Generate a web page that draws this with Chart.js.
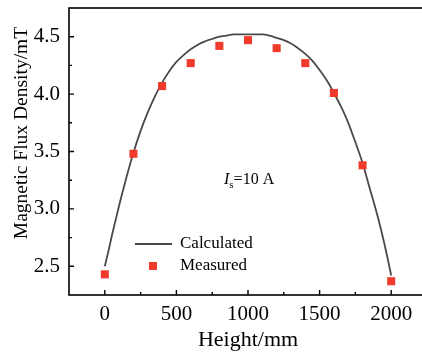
<!DOCTYPE html>
<html><head><meta charset="utf-8">
<script src="https://cdn.jsdelivr.net/npm/chart.js@4/dist/chart.umd.min.js"></script>
<style>
html,body{margin:0;padding:0;background:#fff;overflow:hidden;width:422px;height:356px}
#wrap{width:440px;height:356px}
</style></head>
<body><div id="wrap"><canvas id="c" width="440" height="356"></canvas></div>
<script>
// ---- data ----
const calcHeight = [0,25,50,75,100,150,200,250,300,350,400,450,500,550,600,650,700,750,800,850,900,950,1000,1050,1100,1150,1200,1250,1300,1350,1400,1450,1500,1550,1600,1650,1700,1750,1800,1850,1900,1925,1950,1975,2000];
const calcField  = [2.50,2.63,2.77,2.90,3.03,3.27,3.49,3.68,3.84,3.98,4.10,4.20,4.28,4.34,4.39,4.43,4.46,4.48,4.50,4.51,4.52,4.52,4.52,4.52,4.52,4.51,4.49,4.47,4.44,4.40,4.35,4.29,4.21,4.12,4.01,3.89,3.75,3.58,3.40,3.18,2.96,2.84,2.71,2.57,2.42];
const measHeight = [0,200,400,600,800,1000,1200,1400,1600,1800,2000];
const measField  = [2.43,3.48,4.07,4.27,4.42,4.47,4.40,4.27,4.01,3.38,2.37];
const xTicks = [0,500,1000,1500,2000];
const xMinor = [250,750,1250,1750];
const yTicks = [2.5,3.0,3.5,4.0,4.5];
const yMinor = [2.75,3.25,3.75,4.25];
const xTitle = 'Height/mm';
const yTitle = 'Magnetic Flux Density/mT';
const seriesNames = ['Calculated','Measured'];

const SERIF = '"Liberation Serif","Times New Roman",serif';

const decor = {
  id:'decor',
  afterDraw(chart){
    const ctx = chart.ctx, a = chart.chartArea;
    const xs = chart.scales.x, ys = chart.scales.y;
    ctx.save();
    ctx.strokeStyle = '#000';
    ctx.lineWidth = 1.6;
    ctx.strokeRect(a.left, a.top, a.right - a.left, a.bottom - a.top);
    ctx.lineWidth = 1.4;
    ctx.beginPath();
    xTicks.forEach(v=>{const p=xs.getPixelForValue(v);ctx.moveTo(p,a.bottom);ctx.lineTo(p,a.bottom-5);});
    xMinor.forEach(v=>{const p=xs.getPixelForValue(v);ctx.moveTo(p,a.bottom);ctx.lineTo(p,a.bottom-3);});
    yTicks.forEach(v=>{const p=ys.getPixelForValue(v);ctx.moveTo(a.left,p);ctx.lineTo(a.left+5,p);});
    yMinor.forEach(v=>{const p=ys.getPixelForValue(v);ctx.moveTo(a.left,p);ctx.lineTo(a.left+3,p);});
    ctx.stroke();
    // axis titles
    ctx.fillStyle = '#000';
    ctx.textAlign = 'center';
    ctx.textBaseline = 'alphabetic';
    ctx.font = '22px ' + SERIF;
    ctx.fillText(xTitle, (a.left + a.right)/2, 346);
    ctx.save();
    ctx.translate(27, 133);
    ctx.rotate(-Math.PI/2);
    ctx.font = '19.5px ' + SERIF;
    ctx.textBaseline = 'alphabetic';
    ctx.fillText(yTitle, 0, 0);
    ctx.restore();
    // legend
    ctx.font = '17px ' + SERIF;
    ctx.textAlign = 'left';
    ctx.textBaseline = 'middle';
    ctx.strokeStyle = '#4a4a4a';
    ctx.lineWidth = 1.8;
    ctx.beginPath(); ctx.moveTo(135,244); ctx.lineTo(172,244); ctx.stroke();
    ctx.fillStyle = '#000';
    ctx.fillText(seriesNames[0], 180, 244);
    ctx.fillStyle = '#f03a2c';
    ctx.fillRect(149, 262, 8, 8);
    ctx.fillStyle = '#000';
    ctx.fillText(seriesNames[1], 180, 266);
    // annotation
    ctx.textBaseline = 'alphabetic';
    ctx.font = 'italic 16px ' + SERIF;
    ctx.fillText('I', 224, 184);
    let w = ctx.measureText('I').width;
    ctx.font = '11px ' + SERIF;
    ctx.fillText('s', 224 + w, 188);
    let w2 = ctx.measureText('s').width;
    ctx.font = '16px ' + SERIF;
    ctx.fillText('=10 A', 224 + w + w2, 184);
    ctx.restore();
  }
};

new Chart(document.getElementById('c'), {
  type:'scatter',
  data:{
    datasets:[
      {label:seriesNames[0], type:'line', data:calcHeight.map((h,i)=>({x:h,y:calcField[i]})),
       borderColor:'#4a4a4a', borderWidth:1.8, pointRadius:0, fill:false,
       cubicInterpolationMode:'monotone', order:2},
      {label:seriesNames[1], data:measHeight.map((h,i)=>({x:h,y:measField[i]})),
       pointStyle:'rect', pointRadius:5.7, backgroundColor:'#f03a2c', borderWidth:0, order:1}
    ]
  },
  options:{
    responsive:false, animation:false, devicePixelRatio:1,
    layout:{padding:{top:8,right:13,left:0,bottom:0}},
    plugins:{legend:{display:false}, tooltip:{enabled:false}},
    scales:{
      x:{type:'linear', min:-250, max:2250,
         afterBuildTicks:s=>{s.ticks = xTicks.map(v=>({value:v}));},
         afterFit:s=>{s.height = 61; s.paddingLeft = 0; s.paddingRight = 0;},
         grid:{display:false, drawTicks:false}, border:{display:false},
         ticks:{color:'#000', font:{family:SERIF,size:21}, padding:7, maxRotation:0,
                callback:v=>String(v)}},
      y:{type:'linear', min:2.25, max:4.75,
         afterBuildTicks:s=>{s.ticks = yTicks.map(v=>({value:v}));},
         afterFit:s=>{s.width = 69; s.paddingTop = 0; s.paddingBottom = 0;},
         grid:{display:false, drawTicks:false}, border:{display:false},
         ticks:{color:'#000', font:{family:SERIF,size:21}, padding:9,
                callback:v=>Number(v).toFixed(1)}}
    }
  },
  plugins:[decor]
});
</script>
</body></html>
